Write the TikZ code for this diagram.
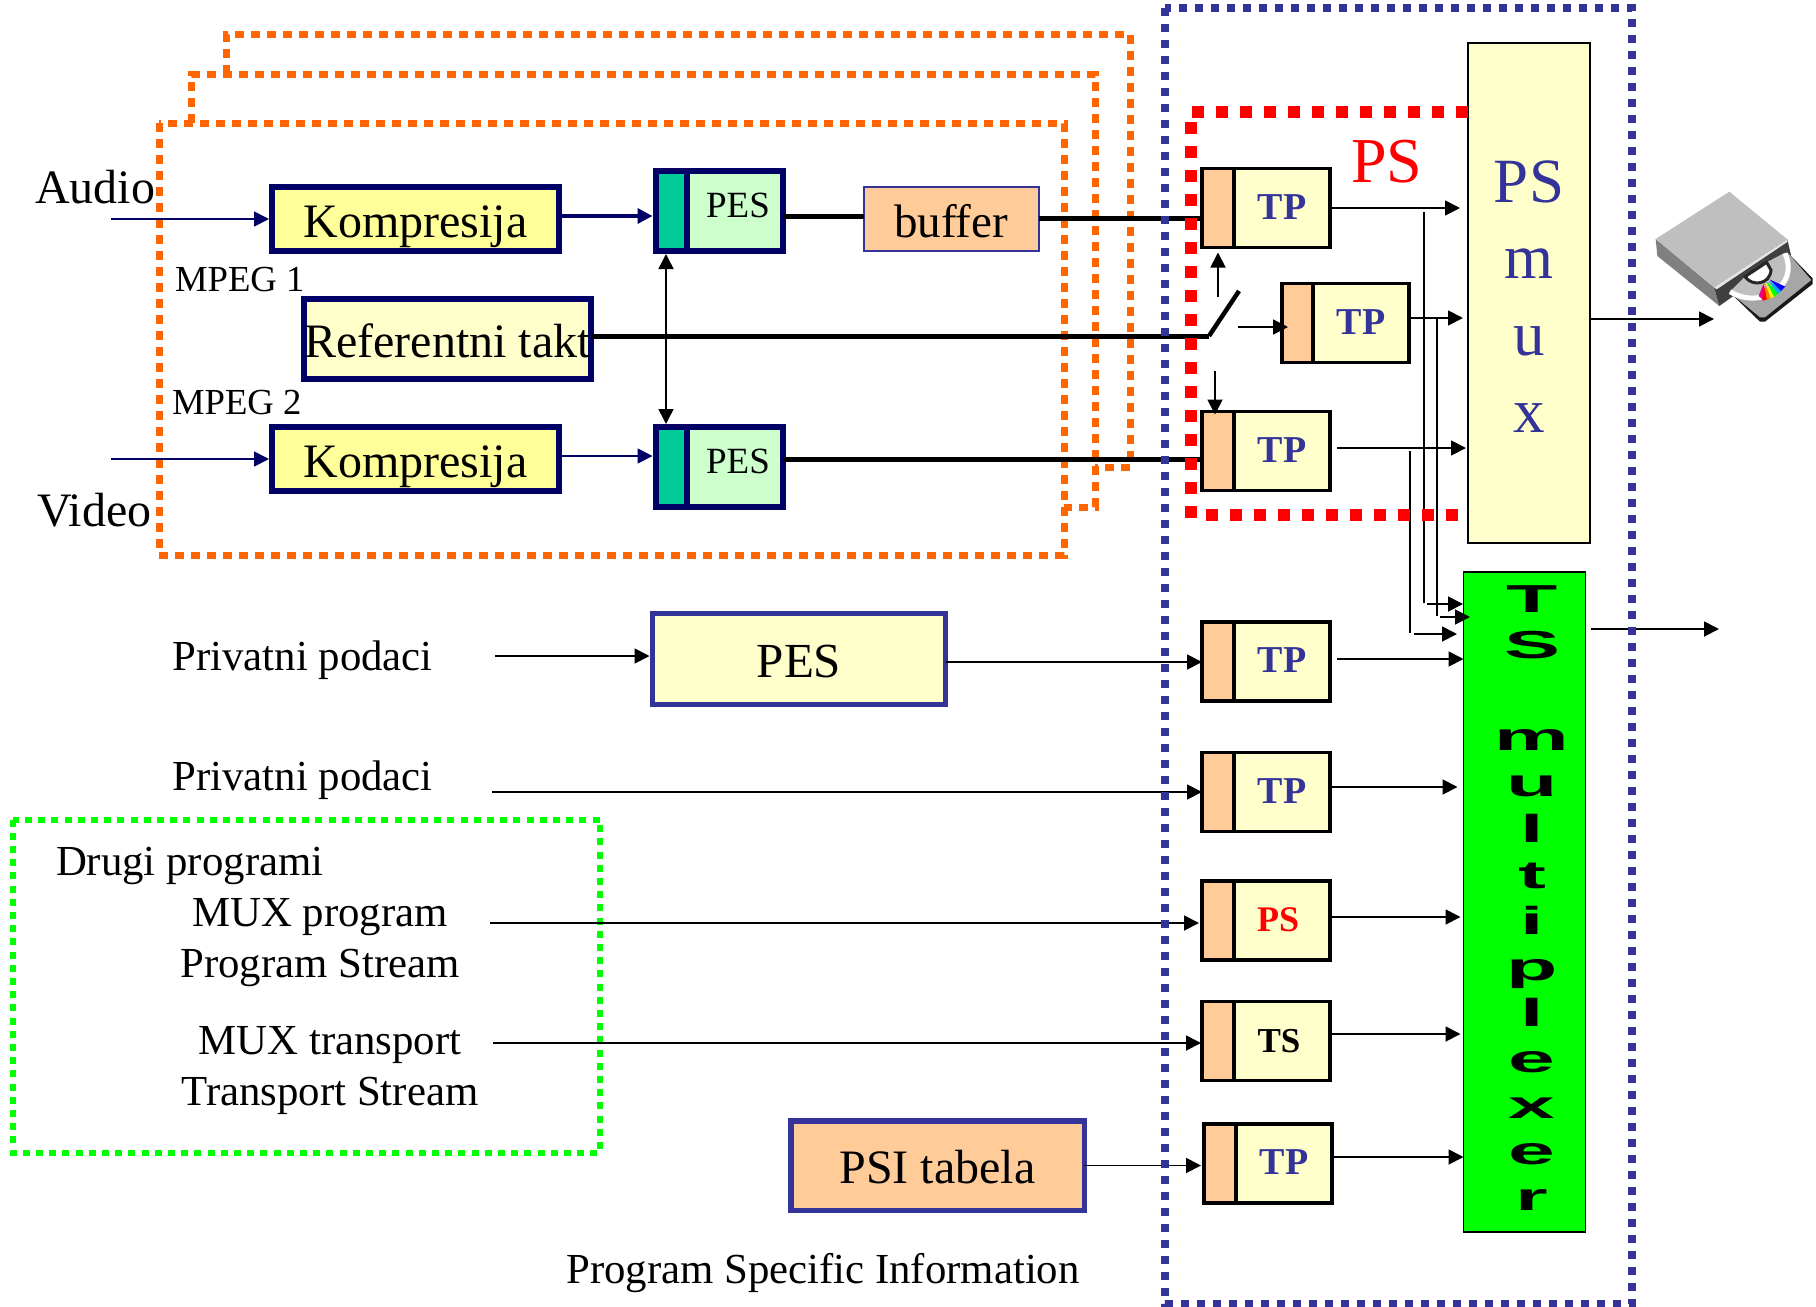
\documentclass[tikz,border=0pt]{standalone}
\usepackage{fontspec}
\setmainfont{Liberation Serif}
\newfontfamily\tsfont{Liberation Sans}
\usetikzlibrary{arrows.meta,positioning}
\definecolor{navyline}{HTML}{000066}
\definecolor{framebl}{HTML}{333399}
\definecolor{frameor}{HTML}{FF6600}
\definecolor{peach}{HTML}{FFCC99}
\definecolor{paleyl}{HTML}{FFFFCC}
\definecolor{strongyl}{HTML}{FFFF99}
\definecolor{palegr}{HTML}{CCFFCC}
\definecolor{teal}{HTML}{00CC99}
\tikzset{
  >=Stealth,
  box/.style={rectangle,draw,inner sep=0pt,outer sep=0pt},
  txt/.style={inner sep=0pt,outer sep=0pt,font=\fontsize{42.8}{46}\selectfont},
  bigtxt/.style={inner sep=0pt,outer sep=0pt,font=\fontsize{48}{50}\selectfont},
  smalltxt/.style={inner sep=0pt,outer sep=0pt,font=\fontsize{36.7}{40}\selectfont},
  komp/.style={box,draw=navyline,line width=6pt,outer sep=3pt,fill=strongyl,minimum width=287pt,minimum height=64pt,font=\fontsize{48}{50}\selectfont,text height=37pt,text depth=0pt},
  peshead/.style={box,draw=navyline,line width=6pt,outer sep=3pt,fill=teal,minimum width=31pt,minimum height=80pt},
  pesbody/.style={box,draw=navyline,line width=6pt,fill=palegr,minimum width=96pt,minimum height=80pt,font=\fontsize{37}{40}\selectfont,text height=12pt,text depth=0pt},
  tphead/.style={box,line width=3.5pt,fill=peach,minimum width=32pt,minimum height=79pt},
  tpbody/.style={box,line width=3.5pt,fill=paleyl,minimum width=96pt,minimum height=79pt,font=\fontsize{38}{40}\selectfont\bfseries,text=framebl,text height=22pt,text depth=0pt},
  bigbox/.style={box,draw=framebl,line width=5.5pt,font=\fontsize{49}{50}\selectfont,text depth=0pt},
  frame/.style={line width=7pt,draw=frameor,dash pattern=on 9pt off 7pt},
  redframe/.style={line width=12pt,draw=red,dash pattern=on 12pt off 12pt},
  muxtxt/.style={anchor=base,inner sep=0pt,font=\fontsize{63}{66}\selectfont,text=framebl},
  arr/.style={-{Triangle[length=15pt,width=15pt]},line width=1.8pt},
  navyarr/.style={arr,draw=navyline,fill=navyline},
  wire/.style={line width=1.8pt},
  thick wire/.style={line width=5pt}
}
\begin{document}
\begin{tikzpicture}[x=1pt,y=-1pt]
    \useasboundingbox (0,0) rectangle (1816,1307);

    % Orange program frames
    \draw[frame] (226,74) -- (226,34.5) -- (1130,34.5) -- (1130,467) -- (1095,467);
    \draw[frame] (191,123) -- (191,74.5) -- (1095,74.5) -- (1095,507) -- (1064,507);
    \draw[frame] (159,123) rectangle (1064,555);
    % Other programs frame
    \draw[line width=6pt,draw=green,dash pattern=on 7pt off 6.2pt] (12.5,819.5) rectangle (600,1152.5);

    % Audio and video branch
    \node[bigtxt,anchor=base west] (audio) at (35,203) {Audio};
    \node[bigtxt,anchor=base west] (video) at (37,526) {Video};
    \node[smalltxt,anchor=base west] (mpega) at (175,291) {MPEG 1};
    \node[smalltxt,anchor=base west] (mpegb) at (172,414) {MPEG 2};
    \node[komp] (kompa) at (415.5,219) {Kompresija};
    \node[komp] (kompb) at (415.5,459) {Kompresija};
    \node[box,draw=navyline,line width=6pt,fill=paleyl,minimum width=287pt,minimum height=80pt,font=\fontsize{48}{50}\selectfont,text height=36pt,text depth=0pt] (reftakt) at (447.5,339) {Referentni takt};
    \node[peshead] (pesah) at (671,211) {};
    \node[pesbody] (pesa) at (735,211) {\hspace*{6pt}PES};
    \node[peshead] (pesbh) at (671,467) {};
    \node[pesbody] (pesb) at (735,467) {\hspace*{6pt}PES};
    \node[box,draw=framebl,line width=2pt,fill=peach,minimum width=175pt,minimum height=64pt,font=\fontsize{47}{50}\selectfont,text height=36pt,text depth=0pt] (buffer) at (951,219) {buffer};

    % Middle inputs
    \node[txt,anchor=base west] (priva) at (172.5,670) {Privatni podaci};
    \node[txt,anchor=base west] (privb) at (172.5,790) {Privatni podaci};
    \node[bigbox,fill=paleyl,minimum width=293pt,minimum height=91pt,text height=36pt] (pesbig) at (799,659) {PES};
    \node[txt,anchor=base west] (drugi) at (56,875) {Drugi programi};
    \node[txt,anchor=base] (muxprog) at (320,926) {MUX program};
    \node[txt,anchor=base] (progstr) at (320,977.5) {Program Stream};
    \node[txt,anchor=base] (muxtran) at (330,1054) {MUX transport};
    \node[txt,anchor=base] (transtr) at (330,1105) {Transport Stream};
    \node[bigbox,fill=peach,minimum width=293.5pt,minimum height=89.5pt,font=\fontsize{48}{50}\selectfont,text height=35pt] (psi) at (937.5,1165.5) {PSI tabela};
    \node[txt,anchor=base] (pspec) at (823,1283) {Program Specific Information};

    % TP blocks
    \node[tphead] (tpah) at (1218,208) {};
    \node[tpbody] (tpa) at (1282,208) {TP};
    \node[tphead] (tpbh) at (1298,323) {};
    \node[tpbody] (tpb) at (1361,323) {TP};
    \node[tphead] (tpch) at (1218,451) {};
    \node[tpbody] (tpc) at (1282,451) {TP};
    \node[tphead] (tpdh) at (1218,661.5) {};
    \node[tpbody] (tpd) at (1282,661.5) {TP};
    \node[tphead] (tpeh) at (1218,792) {};
    \node[tpbody] (tpe) at (1282,792) {TP};
    \node[tphead] (tpfh) at (1218,920.5) {};
    \node[tpbody,text=red,font=\fontsize{36}{40}\selectfont\bfseries] (tpf) at (1282,920.5) {\hspace*{-8pt}PS};
    \node[tphead] (tpgh) at (1218,1041) {};
    \node[tpbody,text=black,font=\fontsize{35}{40}\selectfont\bfseries] (tpg) at (1282,1041) {\hspace*{-6pt}TS};
    \node[tphead] (tphh) at (1220,1163.5) {};
    \node[tpbody] (tph) at (1284,1163.5) {TP};

    % Multiplexers
    \node[box,line width=2pt,fill=paleyl,minimum width=122pt,minimum height=500pt] (psmux) at (1529,293) {};
    \node[muxtxt] (psmuxp) at (1529,202) {PS};
    \node[muxtxt] (psmuxm) at (1529,278) {m};
    \node[muxtxt] (psmuxu) at (1529,355) {u};
    \node[muxtxt] (psmuxx) at (1529,432) {x};
    \node[box,line width=1.5pt,fill=green,minimum width=122pt,minimum height=660pt] (tsmux) at (1524.5,902) {};
    \node[inner sep=0pt,align=center,font=\tsfont\bfseries\fontsize{39}{46}\selectfont] (tstext) at (1532,898)
      {\scalebox{2.15}[1]{T}\\\scalebox{2.15}[1]{S}\\[46pt]\scalebox{2.15}[1]{m}\\\scalebox{2.15}[1]{u}\\\scalebox{2.15}[1]{l}\\\scalebox{2.15}[1]{t}\\\scalebox{2.15}[1]{i}\\\scalebox{2.15}[1]{p}\\\scalebox{2.15}[1]{l}\\\scalebox{2.15}[1]{e}\\\scalebox{2.15}[1]{x}\\\scalebox{2.15}[1]{e}\\\scalebox{2.15}[1]{r}};
    \node[anchor=base west,inner sep=0pt,font=\fontsize{64}{66}\selectfont,text=red] (pslabel) at (1351,182) {PS};

    % Switch
    \coordinate (swa) at (1209,336);
    \coordinate (swb) at (1239,291);
    \coordinate (swup) at (1218,297);
    \coordinate (swright) at (1238,327);
    \coordinate (swdown) at (1215,371);
    \draw[line width=4.5pt] (swa) -- (swb);
    \draw[arr,shorten >=5pt] (swup) -- (swup |- tpah.south);
    \draw[arr] (swright) -- ++(50,0) coordinate (swrighte);
    \draw[arr] (swdown) -- ([yshift=-3pt]swdown |- tpch.north);

    % Connectors
    \coordinate (audioin) at (111,219);
    \coordinate (videoin) at (111,459);
    \draw[navyarr] (audioin) -- (kompa.west);
    \draw[navyarr] (videoin) -- (kompb.west);
    \draw[navyarr,line width=3.5pt] ([yshift=3pt]kompa.east) -- (pesah.west |- 0,216);
    \draw[navyarr] ([yshift=3pt]kompb.east) -- (pesbh.west |- 0,456);
    \draw[{Triangle[length=15pt,width=15pt]}-{Triangle[length=15pt,width=15pt]},line width=1.5pt] ([xshift=-5pt]pesah.south) -- ([xshift=-5pt]pesbh.north);
    \draw[thick wire] (pesa.east |- 0,216) -- (buffer.west |- 0,216);
    \draw[thick wire] (buffer.east |- 0,218) -- (tpah.west |- 0,218);
    \draw[thick wire] (pesb.east |- 0,459) -- (tpch.west |- 0,459);
    \draw[thick wire] (reftakt.east |- swa) -- (swa);

    \coordinate (privain) at (495,656);
    \coordinate (privbin) at (492,792);
    \coordinate (muxin) at (490,923);
    \coordinate (transin) at (493,1043);
    \draw[arr,shorten >=3pt] (privain) -- (pesbig.west |- privain);
    \draw[arr] (pesbig.east |- 0,662) -- (tpdh.west |- 0,662);
    \draw[arr] (privbin) -- (tpeh.west |- privbin);
    \draw[arr,shorten >=3pt] (muxin) -- (tpfh.west |- muxin);
    \draw[arr,shorten >=1pt] (transin) -- (tpgh.west |- transin);
    \draw[arr,shorten >=3pt] (psi.east) -- (psi.east -| tphh.west);

    % Into PS mux
    \draw[arr,shorten >=8pt,shorten <=2pt] (tpa.east) -- (tpa.east -| psmux.west);
    \draw[arr,shorten >=5pt,shorten <=2pt] ([yshift=5pt]tpb.east) -- ([yshift=5pt]tpb.east -| psmux.west);
    \draw[arr,shorten >=2pt,shorten <=7pt] ([yshift=3pt]tpc.east) -- ([yshift=3pt]tpc.east -| psmux.west);
    \coordinate (psout) at (1714,319);
    \draw[arr,shorten <=3pt] ([xshift=-4pt]psmux.east |- psout) -- (psout);

    % Into TS mux
    \coordinate (braa) at (1424,212);
    \coordinate (brab) at (1437,318);
    \coordinate (brac) at (1410,451);
    \draw[wire] (braa) -- (1424,603);
    \draw[wire] (brab) -- (1437,616);
    \draw[wire] (brac) -- (1410,633);
    \coordinate (brae) at (1427,604);
    \coordinate (braf) at (1440,617);
    \coordinate (brag) at (1414,634);
    \draw[arr] (brae) -- (1463,604);
    \draw[arr] (braf) -- (1470,617);
    \draw[arr] (brag) -- (1457,634);
    \draw[arr,shorten <=7pt] (tpd.east |- 0,659) -- (tsmux.west |- 0,659);
    \draw[arr,shorten >=6pt] (tpe.east |- 0,787) -- (tsmux.west |- 0,787);
    \draw[arr,shorten >=3pt] (tpf.east |- 0,917) -- (tsmux.west |- 0,917);
    \draw[arr,shorten >=3pt] (tpg.east |- 0,1034) -- (tsmux.west |- 0,1034);
    \draw[arr] (tph.east |- 0,1157) -- (tsmux.west |- 0,1157);
    \coordinate (tsout) at (1719,629);
    \draw[arr,shorten <=5pt] (tsmux.east |- tsout) -- (tsout);

    % PS and outer frames
    \draw[redframe] (1191.5,112) -- (1468,112);
    \draw[redframe] (1191,122) -- (1191,521);
    \draw[redframe] (1206,515) -- (1458,515);
    \draw[line width=8pt,draw=framebl,dash pattern=on 8pt off 8pt] (1165,8) rectangle (1632,1304);

    % Drive
    \begin{scope}[shift={(1620,170)},x=0.3333pt,y=-0.3333pt]
      \fill[black!50] (107,207) -- (282,352) -- (298,408) -- (112,258) -- cycle;
      \fill[black!75] (282,352) -- (502,208) -- (513,255) -- (298,408) -- cycle;
      \fill[black!90] (330,368) -- (420,455) -- (435,455) -- (578,342) -- (578,325) -- (505,250) -- cycle;
      \fill[black!35] (330,368) -- (420,442) -- (435,442) -- (574,330) -- (505,250) -- cycle;
      \fill[black!25] (330,365) -- (375,320) -- (440,277) -- (495,248) .. controls (530,330) and (440,420) .. cycle;
      \draw[white,line width=5pt] (330,365) .. controls (420,420) and (540,350) .. (495,250);
      \fill[magenta] (430,342) -- (416,378) -- (432,392) -- cycle;
      \fill[red] (430,342) -- (428,392) -- (444,388) -- cycle;
      \fill[orange] (433,340) -- (440,390) -- (455,384) -- cycle;
      \fill[yellow] (437,338) -- (452,386) -- (465,378) -- cycle;
      \fill[green] (440,335) -- (462,380) -- (476,370) -- cycle;
      \fill[cyan] (445,331) -- (473,372) -- (486,361) -- cycle;
      \fill[blue] (448,328) -- (483,363) -- (496,350) -- cycle;
      \fill[white,draw=black!85,line width=3pt] (375,320) .. controls (395,350) and (450,345) .. (453,300) -- (440,277) -- cycle;
      \fill[black!10] (282,352) -- (502,208) -- (502,216) -- (290,358) -- cycle;
      \fill[black!25] (107,207) -- (328,65) -- (502,208) -- (282,352) -- cycle;
    \end{scope}
\end{tikzpicture}
\end{document}
